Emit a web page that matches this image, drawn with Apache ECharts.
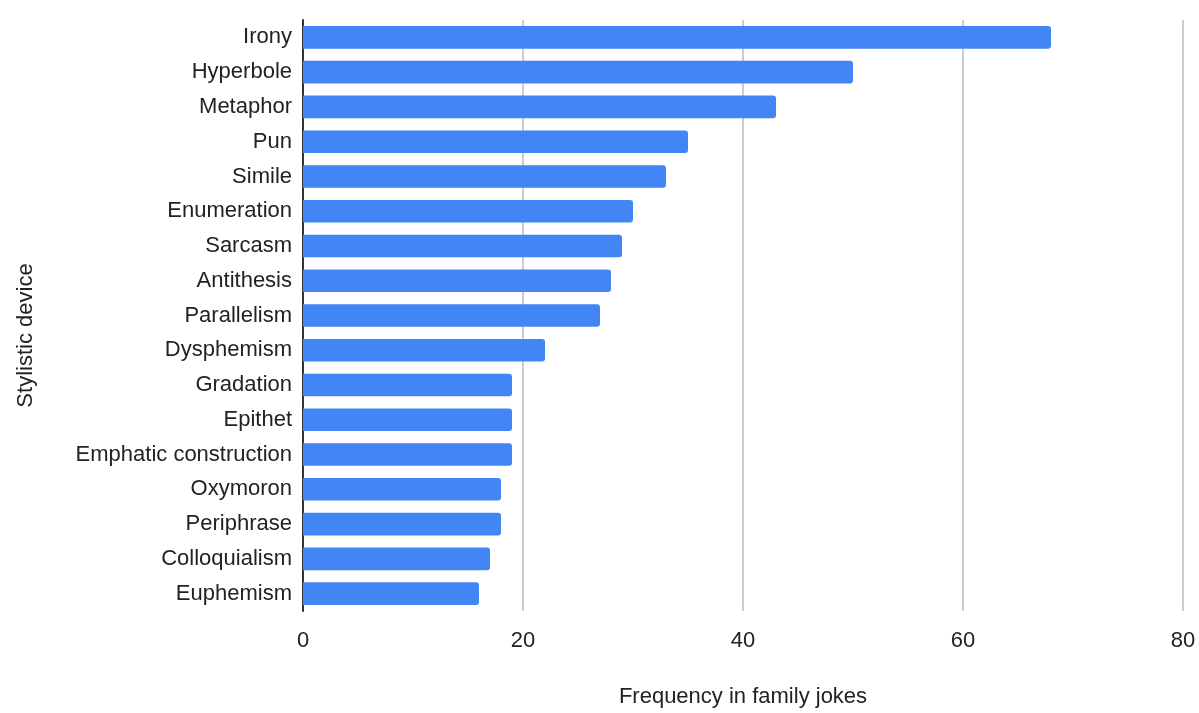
<!DOCTYPE html>
<html>
<head>
<meta charset="utf-8">
<script src="https://cdn.jsdelivr.net/npm/echarts@6/dist/echarts.min.js"></script>
<style>
  html, body { margin: 0; padding: 0; background: #fff; }
  #main { width: 1199px; height: 713px; }
</style>
</head>
<body>
<div id="main"></div>
<script>
// stylistic devices, top to bottom as in the chart
var devices = ['Irony', 'Hyperbole', 'Metaphor', 'Pun', 'Simile', 'Enumeration', 'Sarcasm',
  'Antithesis', 'Parallelism', 'Dysphemism', 'Gradation', 'Epithet', 'Emphatic construction',
  'Oxymoron', 'Periphrase', 'Colloquialism', 'Euphemism'];
var frequency = [68, 50, 43, 35, 33, 30, 29, 28, 27, 22, 19, 19, 19, 18, 18, 17, 16];
var xTicks = [0, 20, 40, 60, 80];

var myChart = echarts.init(document.getElementById('main'));
var font = '"Liberation Sans", Arial, sans-serif';

var option = {
  animation: false,
  textStyle: { fontFamily: font },
  grid: { left: 303, right: 16, top: 20, bottom: 96, containLabel: false },
  xAxis: {
    type: 'value',
    min: xTicks[0],
    max: xTicks[xTicks.length - 1],
    interval: 20,
    name: 'Frequency in family jokes',
    nameLocation: 'middle',
    nameGap: 75,
    nameTextStyle: { fontSize: 22, color: '#222', fontFamily: font },
    axisLine: { show: false },
    axisTick: { show: false },
    axisLabel: { fontSize: 22, color: '#222', margin: 19, fontFamily: font },
    splitLine: { show: true, lineStyle: { color: '#cccccc', width: 2 } }
  },
  yAxis: {
    type: 'category',
    inverse: true,
    data: devices,
    name: 'Stylistic device',
    nameLocation: 'middle',
    nameGap: 266,
    nameRotate: 90,
    nameTextStyle: { fontSize: 22, color: '#222', fontFamily: font, padding: [0, 40, 0, 0] },
    axisLine: { show: true, lineStyle: { color: '#333', width: 2 } },
    axisTick: { show: false },
    axisLabel: { fontSize: 22, color: '#222', margin: 11, fontFamily: font },
    splitLine: { show: false }
  },
  series: [{
    type: 'bar',
    data: frequency,
    barCategoryGap: '35%',
    itemStyle: { color: '#4285f4', borderRadius: [0, 3, 3, 0] }
  }]
};
myChart.setOption(option);
</script>
</body>
</html>
